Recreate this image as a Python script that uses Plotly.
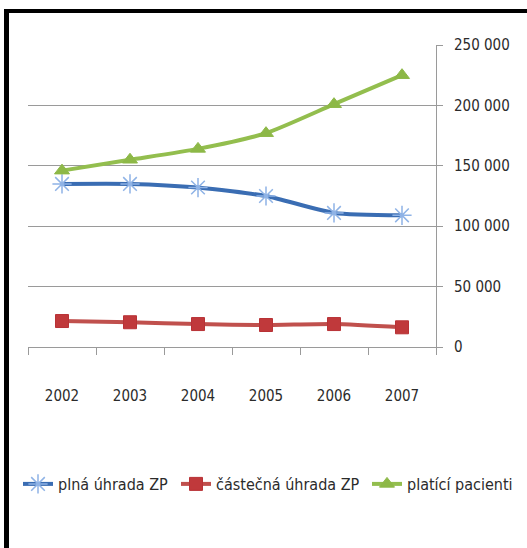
import plotly.graph_objects as go

# Data
years = ["2002", "2003", "2004", "2005", "2006", "2007"]
plna_uhrada = [135000, 135000, 132000, 125000, 111000, 109000]
castecna_uhrada = [21500, 20500, 19000, 18200, 19000, 16300]
platici_pacienti = [146000, 155000, 164000, 177000, 201000, 225000]
y_ticks = [0, 50000, 100000, 150000, 200000, 250000]

W, H = 527, 548
ML, MR, MT, MB = 28, 91, 45, 201
PW, PH = W - ML - MR, H - MT - MB


def px_x(x):
    return (x - ML) / PW


def px_y(y):
    return (H - MB - y) / PH


FONT = "DejaVu Sans Condensed, Liberation Sans Narrow, sans-serif"
LEGEND_Y = 1 - 484 / H

fig = go.Figure()
fig.add_trace(go.Scatter(
    x=years, y=plna_uhrada, name="plná úhrada ZP", mode="lines+markers",
    legend="legend",
    line=dict(color="#3A6DB3", width=4, shape="spline", smoothing=0.6),
    marker=dict(symbol="asterisk-open", size=16, color="#8FB3E6",
                line=dict(color="#8FB3E6", width=1.5)),
))
fig.add_trace(go.Scatter(
    x=years, y=castecna_uhrada, name="částečná úhrada ZP", mode="lines+markers",
    legend="legend2",
    line=dict(color="#C0504D", width=4, shape="spline", smoothing=0.6),
    marker=dict(symbol="square", size=13, color="#C0393B",
                line=dict(color="#B83236", width=1)),
))
fig.add_trace(go.Scatter(
    x=years, y=platici_pacienti, name="platící pacienti", mode="lines+markers",
    legend="legend3",
    line=dict(color="#93BE4E", width=4, shape="spline", smoothing=0.6),
    marker=dict(symbol="triangle-up", size=13, color="#8DB847",
                line=dict(color="#8DB847", width=1)),
))


def legend_box(left_px):
    return dict(orientation="h", xref="container", yref="container",
                x=left_px / W, xanchor="left", y=LEGEND_Y, yanchor="middle",
                font=dict(family=FONT, size=16, color="#2b2b2b"),
                itemwidth=30, bgcolor="rgba(0,0,0,0)", borderwidth=0)


fig.update_layout(
    width=W, height=H,
    margin=dict(l=ML, r=MR, t=MT, b=MB),
    paper_bgcolor="white", plot_bgcolor="white",
    font=dict(family=FONT, size=15, color="#2b2b2b"),
    separators=", ",
    showlegend=True,
    legend=legend_box(18),
    legend2=legend_box(176),
    legend3=legend_box(367),
    xaxis=dict(type="category", range=[-0.5, 5.5], showgrid=False,
               showline=True, linecolor="#9a9a9a", linewidth=1,
               ticks="outside", tickson="boundaries", ticklen=7,
               tickcolor="#9a9a9a", ticklabelstandoff=35, zeroline=False),
    yaxis=dict(side="right", range=[0, 250000], tickvals=y_ticks,
               tickformat=",d", showgrid=True, gridcolor="#9a9a9a",
               gridwidth=1, showline=True, linecolor="#9a9a9a",
               ticks="outside", ticklen=6, tickcolor="#9a9a9a",
               ticklabelstandoff=8, zeroline=False),
    shapes=[
        # frame edges (top and left)
        dict(type="rect", xref="paper", yref="paper",
             x0=px_x(4), x1=px_x(W + 2), y0=px_y(13), y1=px_y(9),
             fillcolor="black", line=dict(width=0), layer="above"),
        dict(type="rect", xref="paper", yref="paper",
             x0=px_x(4), x1=px_x(9), y0=px_y(H + 2), y1=px_y(9),
             fillcolor="black", line=dict(width=0), layer="above"),
    ],
)

fig.write_html("out.html")
